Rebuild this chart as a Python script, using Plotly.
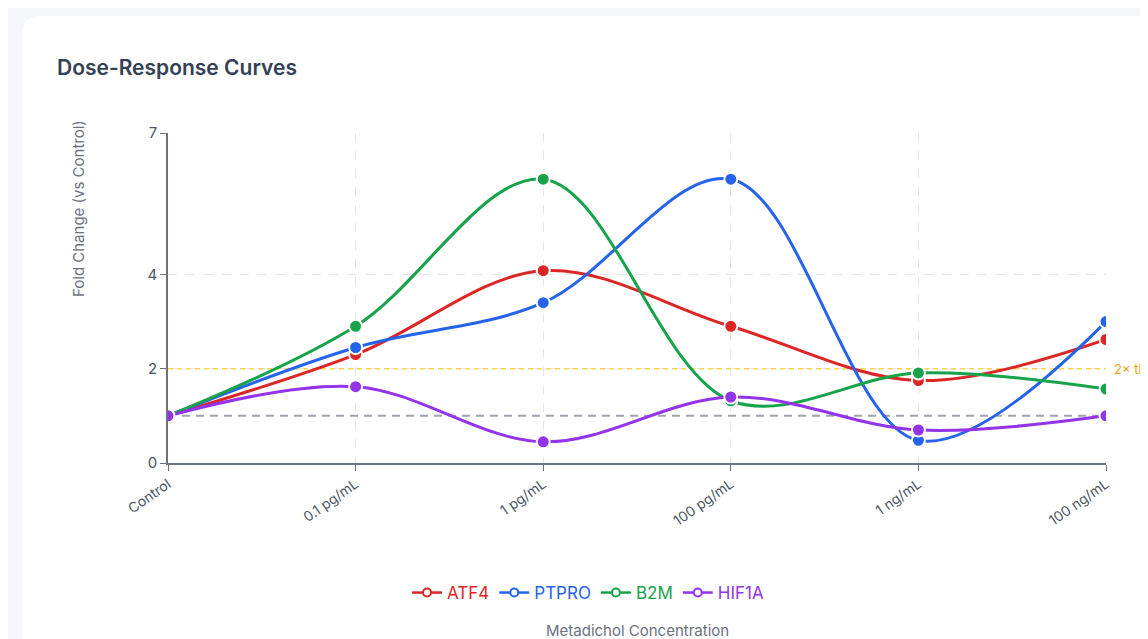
import plotly.graph_objects as go

# data
doses = ["Control", "0.1 pg/mL", "1 pg/mL", "100 pg/mL", "1 ng/mL", "100 ng/mL"]
atf4 = [1.0, 2.3, 4.08, 2.9, 1.75, 2.62]
ptpro = [1.0, 2.45, 3.4, 6.02, 0.48, 3.0]
b2m = [1.0, 2.9, 6.02, 1.32, 1.91, 1.57]
hif1a = [1.0, 1.62, 0.45, 1.4, 0.7, 1.0]
y_ticks = [0, 2, 4, 7]
baseline = 1.0
threshold = 2.0

series = [
    ("ATF4", atf4, "#dc2626"),
    ("PTPRO", ptpro, "#2563eb"),
    ("B2M", b2m, "#16a34a"),
    ("HIF1A", hif1a, "#9333ea"),
]

# page body has an 8px margin, so the figure starts at (8, 8) in the window
OFF = 8
W, H = 1148 - OFF, 639 - OFF
L, R, T, B = 168 - OFF, 42, 133 - OFF, 176
pw, ph = W - L - R, H - T - B


def px_x(x):
    # window pixel -> plot-area paper x
    return (x - OFF - L) / pw


def px_y(y):
    # window pixel -> plot-area paper y
    return (H - B - (y - OFF)) / ph


fig = go.Figure()

# reference lines
fig.add_trace(go.Scatter(
    x=doses, y=[baseline] * len(doses), mode="lines",
    line=dict(color="#9ca3af", width=2, dash="8px,6px"),
    showlegend=False, hoverinfo="skip",
))
fig.add_trace(go.Scatter(
    x=doses, y=[threshold] * len(doses), mode="lines",
    line=dict(color="#fcd34d", width=1.5, dash="5px,4px"),
    showlegend=False, hoverinfo="skip",
))

for name, vals, color in series:
    fig.add_trace(go.Scatter(
        x=doses, y=vals, mode="lines+markers", name=name,
        line=dict(color=color, width=3, shape="spline", smoothing=1.0),
        marker=dict(size=13, color=color, line=dict(color="white", width=2)),
        showlegend=False,
    ))

# legend entries: line with an open circle
for name, vals, color in series:
    fig.add_trace(go.Scatter(
        x=[None], y=[None], mode="lines+markers",
        name=f"<span style='color:{color}'>{name}</span>",
        line=dict(color=color, width=2.5),
        marker=dict(size=8, color="white", line=dict(color=color, width=2)),
    ))

# card background
x0, y0 = px_x(22), px_y(16)
x1, y1 = px_x(1200), px_y(700)
rx, ry = 18 / pw, 18 / ph
fig.add_shape(
    type="path", xref="paper", yref="paper", layer="below",
    path=(f"M {x0 + rx} {y0} L {x1} {y0} L {x1} {y1} L {x0} {y1} "
          f"L {x0} {y0 - ry} Q {x0} {y0} {x0 + rx} {y0} Z"),
    fillcolor="white", line=dict(width=0),
)

fig.add_annotation(
    text="2× threshold", xref="x", yref="y", x=5, y=threshold,
    xanchor="left", xshift=6, showarrow=False,
    font=dict(size=13, color="#f59e0b"),
)
fig.add_annotation(
    text="Fold Change (vs Control)", xref="paper", yref="paper",
    x=px_x(78), y=px_y(209), xanchor="center", yanchor="middle",
    textangle=-90, showarrow=False,
    font=dict(size=15, color="#6b7280"),
)
fig.add_annotation(
    text="Metadichol Concentration", xref="paper", yref="paper",
    x=px_x(637), y=px_y(630), xanchor="center", yanchor="middle",
    showarrow=False,
    font=dict(size=15, color="#6b7280"),
)

fig.update_layout(
    width=W, height=H,
    margin=dict(l=L, r=R, t=T, b=B),
    paper_bgcolor="#f4f6f9",
    plot_bgcolor="rgba(0,0,0,0)",
    font=dict(family="Inter, Roboto, sans-serif", color="#4b5563"),
    title=dict(
        text="Dose-Response Curves",
        x=(57 - OFF) / W, xanchor="left", y=1 - (68 - OFF) / H, yanchor="middle",
        font=dict(size=21, color="#334155", weight=600),
    ),
    legend=dict(
        orientation="h", x=(588 - OFF) / W, xanchor="center", xref="container",
        y=1 - (593 - OFF) / H, yanchor="middle", yref="container",
        font=dict(size=17), bgcolor="rgba(0,0,0,0)",
    ),
    showlegend=True,
    hovermode="closest",
)

fig.update_xaxes(
    range=[0, 5], tickangle=-35,
    showline=True, linecolor="#6b7280", linewidth=1.5,
    ticks="outside", ticklen=6, tickcolor="#6b7280",
    showgrid=True, gridcolor="#e5e7eb", griddash="dash", gridwidth=1,
    tickfont=dict(size=14, color="#4b5563"),
    zeroline=False,
)
fig.update_yaxes(
    range=[0, 7], tickvals=y_ticks,
    showline=True, linecolor="#6b7280", linewidth=1.5,
    ticks="outside", ticklen=6, tickcolor="#6b7280",
    showgrid=True, gridcolor="#e5e7eb", griddash="dash", gridwidth=1,
    tickfont=dict(size=15, color="#4b5563"),
    zeroline=False,
)

fig.write_html("out.html")
